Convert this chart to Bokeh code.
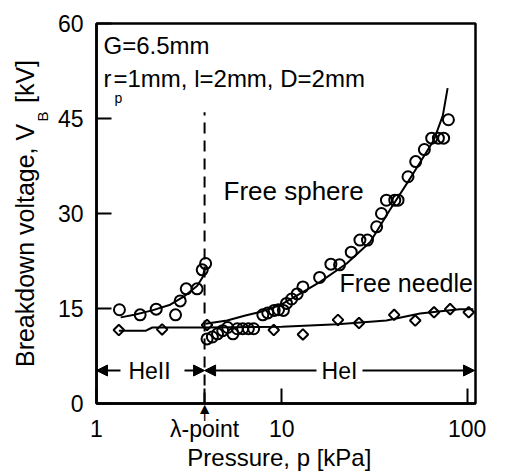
import numpy as np
from bokeh.plotting import figure
from bokeh.models import Range1d, FixedTicker, Label, Arrow, NormalHead, PrintfTickFormatter
from bokeh.embed import file_html
from bokeh.resources import INLINE

# ---------------- data ----------------
# Free sphere, He II (below lambda point)
sphere_he2_p = [1.33, 1.72, 2.10, 2.67, 2.83, 3.05, 3.49, 3.72, 3.88]
sphere_he2_v = [14.8, 14.0, 14.9, 14.0, 16.2, 18.1, 18.1, 21.1, 22.1]
# Free sphere, He I
sphere_he1_p = [3.95, 4.22, 4.50, 4.80, 5.10, 5.45, 5.75, 6.15, 6.60, 7.05, 7.90, 8.40,
                9.10, 9.60, 10.2, 10.6, 11.3, 12.1, 13.0, 16.0, 18.4, 20.5, 23.7, 26.4,
                29.0, 32.5, 34.5, 36.7, 40.7, 42.4, 48.0, 52.8, 58.8, 64.4, 70.0, 74.7, 79.3]
sphere_he1_v = [10.2, 10.5, 11.0, 11.5, 12.0, 11.0, 11.8, 11.8, 11.8, 11.8, 14.0, 14.3,
                14.7, 14.8, 14.7, 15.8, 16.5, 17.3, 18.4, 19.9, 22.0, 21.9, 23.9, 25.8,
                25.8, 27.9, 30.0, 32.1, 32.1, 32.1, 35.8, 38.2, 40.1, 41.9, 41.9, 41.9, 44.8]
# Fitted curves for the sphere
sphere_fit2_p = [1.35, 1.6, 2.0, 2.5, 3.0, 3.5, 3.75, 3.85]
sphere_fit2_v = [13.6, 14.0, 14.7, 15.6, 17.0, 18.6, 20.0, 21.5]
sphere_fit1_p = [3.87, 5.07, 6.36, 7.53, 9.75, 12.5, 16.1, 22.4, 30.0, 38.2, 51.2, 66.2, 74.0, 78.5]
sphere_fit1_v = [12.6, 13.1, 13.9, 14.4, 15.5, 17.3, 19.2, 22.1, 25.5, 30.5, 36.3, 41.6, 45.5, 49.8]
# Free needle
needle_p = [1.32, 2.26, 3.95, 9.05, 13.0, 20.1, 26.1, 40.4, 52.5, 66.3, 81.0, 102.0]
needle_v = [11.6, 11.7, 12.4, 11.6, 10.9, 13.2, 12.7, 14.0, 13.1, 14.4, 14.9, 14.4]
needle_fit_p = [1.32, 1.85, 2.0, 3.87, 10.0, 20.0, 36.7, 55.7, 91.0, 108.0]
needle_fit_v = [11.5, 11.5, 12.0, 12.0, 12.1, 12.5, 13.1, 14.2, 14.9, 14.9]

lambda_p = 3.83          # lambda point pressure [kPa]
dash_top = 46.0          # top of the dashed lambda line [kV]
x_ticks = [1, lambda_p, 10, 100]
y_ticks = [0, 15, 30, 45, 60]
x_lo, x_hi = 1, 111
y_lo, y_hi = 0, 60

FONT = "Liberation Sans"
NB = "\u00a0"

p = figure(width=507, height=473, x_axis_type="log",
           x_range=Range1d(x_lo, x_hi), y_range=Range1d(y_lo, y_hi),
           output_backend="svg", toolbar_location=None,
           min_border_left=96, min_border_right=32, min_border_top=23, min_border_bottom=70)
p.xgrid.visible = False
p.ygrid.visible = False
p.outline_line_color = "black"
p.outline_line_width = 2.5
p.background_fill_color = "white"
p.border_fill_color = "white"

for ax in (p.xaxis, p.yaxis):
    ax.axis_line_color = "black"
    ax.axis_line_width = 2.5
    ax.major_tick_in = 15
    ax.major_tick_out = 0
    ax.major_tick_line_width = 2
    ax.major_tick_line_color = "black"
    ax.minor_tick_line_color = None
    ax.major_label_text_font = FONT
    ax.major_label_text_font_size = "23px"
    ax.major_label_text_color = "black"
    ax.axis_label_text_font = FONT
    ax.axis_label_text_font_style = "normal"
    ax.axis_label_text_color = "black"

p.yaxis.ticker = FixedTicker(ticks=y_ticks)
p.yaxis.major_label_standoff = 13
p.yaxis.axis_label = "Breakdown voltage, V" + NB * 3 + "[kV]"
p.yaxis.axis_label_text_font_size = "25px"
p.yaxis.axis_label_standoff = 16

p.xaxis.ticker = FixedTicker(ticks=x_ticks)
p.xaxis.formatter = PrintfTickFormatter(format="%g")
p.xaxis.major_label_overrides = {lambda_p: "λ-point"}
p.xaxis.major_label_standoff = 12
p.xaxis.axis_label = "Pressure, p [kPa]" + NB * 2
p.xaxis.axis_label_text_font_size = "24px"
p.xaxis.axis_label_standoff = -1

# ---- helpers: picture pixel -> data (for annotation placement only) ----
FL, FR, FT, FB = 96, 475, 23, 403
def dx(px):
    return 10 ** ((px - FL) / (FR - FL) * np.log10(x_hi / x_lo)) * x_lo
def dy(py):
    return y_lo + (FB - py) / (FB - FT) * (y_hi - y_lo)

# dashed lambda line
p.line([lambda_p, lambda_p], [y_lo, dash_top], line_color="black", line_width=2, line_dash="11 7")

# fitted curves
p.line(sphere_fit2_p, sphere_fit2_v, line_color="black", line_width=2)
p.line(sphere_fit1_p, sphere_fit1_v, line_color="black", line_width=2)
p.line(needle_fit_p, needle_fit_v, line_color="black", line_width=2)

# markers
p.scatter(sphere_he2_p, sphere_he2_v, marker="circle", size=11, line_color="black",
          line_width=2, fill_color=None)
p.scatter(sphere_he1_p, sphere_he1_v, marker="circle", size=11, line_color="black",
          line_width=2, fill_color=None)
p.scatter(needle_p, needle_v, marker="square", angle=np.pi / 4, size=7.5, line_color="black",
          line_width=2, fill_color=None)

def lab(text, px, py, size="24px", align="left", baseline="middle", side=None, x=None, **kw):
    l = Label(x=dx(px) if x is None else x, y=dy(py), text=text, text_font=FONT,
              text_font_size=size, text_color="black", text_align=align,
              text_baseline=baseline, **kw)
    if side is None:
        p.add_layout(l)
    else:
        p.add_layout(l, side)
    return l

lab("G=6.5mm", 103, 45)
lab("r", 103, 78)
lab("p", 114, 97, size="14px", baseline="alphabetic")
lab("=1mm, l=2mm, D=2mm", 113, 78)
lab("Free sphere", 223, 190, size="26px")
lab("Free needle", 339, 282, size="25px")
lab("HeII", 149, 370, size="23px", align="center")
lab("HeI", 339, 370, size="23px", align="center")

# subscript of V_B in the y-axis title (placed in a side panel so it is not clipped)
lab("B", 42, 121, size="15px", baseline="alphabetic", angle=90, angle_units="deg", side="right")
# lambda-point pointer under the axis
lab("▲", 0, 408, size="16px", align="center", side="above", x=lambda_p)
lab("|", 0, 415, size="10px", align="center", side="left", x=lambda_p, text_font_style="bold")

# region arrows
def arr(x0, x1, y, size=11):
    a = Arrow(x_start=x0, y_start=y, x_end=x1, y_end=y, line_color="black", line_width=2,
              end=NormalHead(size=size, fill_color="black", line_color="black", line_width=1))
    p.add_layout(a)

yy = dy(370)
arr(dx(120), x_lo, yy)
arr(dx(184), lambda_p, yy)
arr(dx(316), lambda_p, yy)
arr(dx(362), dx(474), yy)

open("out.html", "w").write(file_html(p, INLINE))
